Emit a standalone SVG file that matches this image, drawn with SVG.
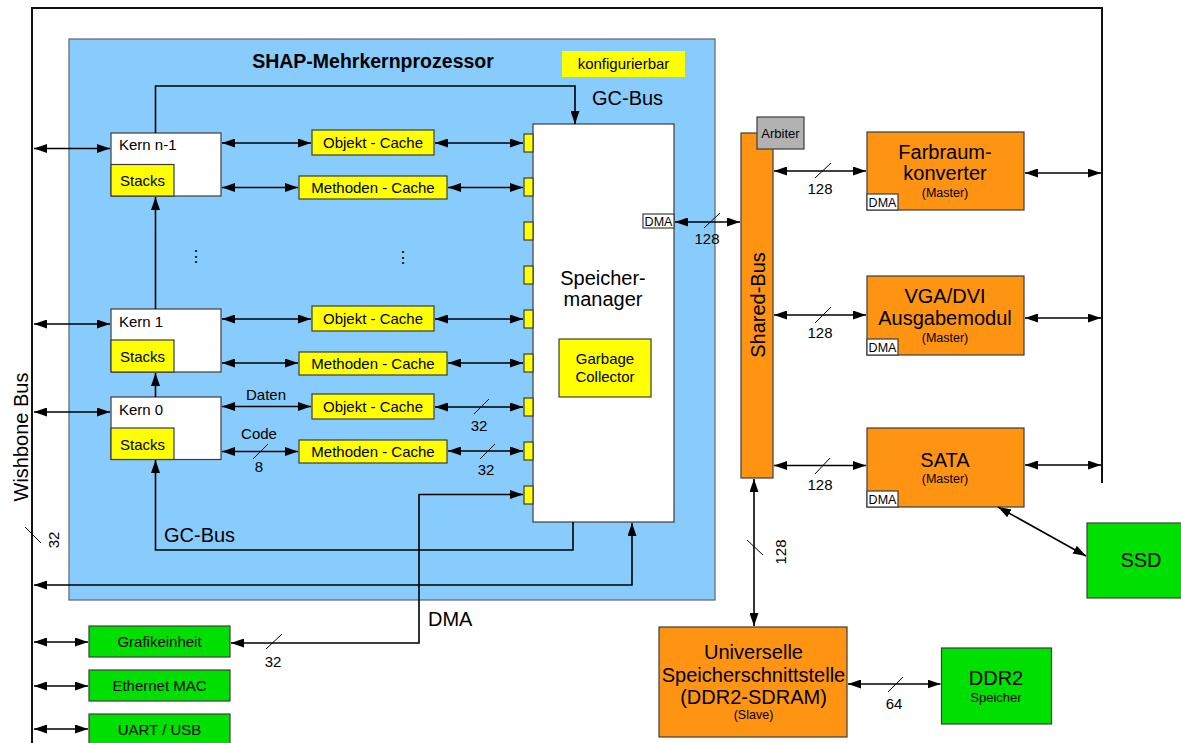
<svg xmlns="http://www.w3.org/2000/svg" width="1181" height="743" viewBox="0 0 1181 743">
  <style>
    .t { font-family: "Liberation Sans", Arial, sans-serif; fill: #000; }
    .c { text-anchor: middle; }
    .f15 { font-size: 15px; }
    .f20 { font-size: 20px; }
    .f13 { font-size: 13px; }
    .f12 { font-size: 12.5px; }
    .box { stroke: #3c3c3c; stroke-width: 1.2; }
    .white { fill: #ffffff; }
    .yellow { fill: #ffff00; }
    .orange { fill: #ff9412; }
    .green { fill: #00e000; }
    .grey { fill: #b2b2b2; }
    .wire { fill: none; stroke: #000; stroke-width: 1.6; }
    .bi { marker-start: url(#ah); marker-end: url(#ah); }
    .one { marker-end: url(#ah); }
    .tick { stroke: #000; stroke-width: 1; }
  </style>
  <defs>
    <marker id="ah" viewBox="0 0 13 9" refX="13" refY="4.5" markerWidth="13" markerHeight="9" markerUnits="userSpaceOnUse" orient="auto-start-reverse">
      <path d="M0,0 L13,4.5 L0,9 z" fill="#000"/>
    </marker>
  </defs>

  <rect width="1181" height="743" fill="#ffffff"/>

  <!-- Wishbone bus frame -->
  <g id="wishbone-bus">
    <path d="M32,743 V8 H1102 V483" fill="none" stroke="#111" stroke-width="2"/>
    <text class="t f20 c" transform="translate(28,437) rotate(-90)">Wishbone Bus</text>
    <line class="tick" x1="25" y1="527" x2="41" y2="543"/>
    <text class="t f15 c" transform="translate(59,540) rotate(-90)">32</text>
  </g>

  <!-- Multicore processor -->
  <g id="shap">
    <rect x="69" y="39" width="646" height="561" fill="#88ccfd" stroke="#5a6670" stroke-width="1.2"/>
    <text class="t c" x="373" y="68" font-size="19.5" font-weight="bold">SHAP-Mehrkernprozessor</text>
  </g>

  <g id="legend-konfigurierbar">
    <rect x="562" y="51" width="123" height="26" class="yellow"/>
    <text class="t f15 c" x="623.5" y="68.5">konfigurierbar</text>
  </g>

  <g id="kern-n-1">
    <rect x="111" y="133" width="110" height="63" class="white box"/>
    <text class="t f15" x="119" y="150">Kern n-1</text>
    <rect x="111" y="164.5" width="63" height="31.5" class="yellow box"/>
    <text class="t f15 c" x="142.5" y="185.5">Stacks</text>
  </g>
  <g id="kern-1">
    <rect x="111" y="309" width="110" height="63" class="white box"/>
    <text class="t f15" x="119" y="327">Kern 1</text>
    <rect x="111" y="340" width="63" height="32" class="yellow box"/>
    <text class="t f15 c" x="142.5" y="361.5">Stacks</text>
  </g>
  <g id="kern-0">
    <rect x="111" y="397" width="110" height="62.5" class="white box"/>
    <text class="t f15" x="119" y="415">Kern 0</text>
    <rect x="111" y="428" width="63" height="31.5" class="yellow box"/>
    <text class="t f15 c" x="142.5" y="449.5">Stacks</text>
  </g>

  <g id="objekt-cache-n-1">
    <rect x="312" y="130" width="122" height="25" class="yellow box"/>
    <text class="t f15 c" x="373" y="148">Objekt - Cache</text>
  </g>
  <g id="methoden-cache-n-1">
    <rect x="299" y="176" width="148" height="23" class="yellow box"/>
    <text class="t f15 c" x="373" y="193">Methoden - Cache</text>
  </g>
  <g id="objekt-cache-1">
    <rect x="312" y="306" width="122" height="25" class="yellow box"/>
    <text class="t f15 c" x="373" y="324">Objekt - Cache</text>
  </g>
  <g id="methoden-cache-1">
    <rect x="299" y="352" width="148" height="23" class="yellow box"/>
    <text class="t f15 c" x="373" y="369">Methoden - Cache</text>
  </g>
  <g id="objekt-cache-0">
    <rect x="312" y="394" width="122" height="25" class="yellow box"/>
    <text class="t f15 c" x="373" y="412">Objekt - Cache</text>
  </g>
  <g id="methoden-cache-0">
    <rect x="299" y="440" width="148" height="23" class="yellow box"/>
    <text class="t f15 c" x="373" y="457">Methoden - Cache</text>
  </g>

  <g id="ellipsis">
    <text class="t c" x="196" y="262" font-size="16" font-family="DejaVu Sans, sans-serif">⋮</text>
    <text class="t c" x="403" y="263" font-size="16" font-family="DejaVu Sans, sans-serif">⋮</text>
  </g>

  <g id="speichermanager">
    <rect x="533" y="124" width="141" height="398" class="white box"/>
    <text class="t f20 c" x="603" y="285">Speicher-</text>
    <text class="t f20 c" x="603" y="306">manager</text>
    <rect x="524" y="134" width="9" height="18" class="yellow box"/>
    <rect x="524" y="178" width="9" height="18" class="yellow box"/>
    <rect x="524" y="222" width="9" height="18" class="yellow box"/>
    <rect x="524" y="266" width="9" height="18" class="yellow box"/>
    <rect x="524" y="310" width="9" height="18" class="yellow box"/>
    <rect x="524" y="354" width="9" height="18" class="yellow box"/>
    <rect x="524" y="398" width="9" height="18" class="yellow box"/>
    <rect x="524" y="442" width="9" height="18" class="yellow box"/>
    <rect x="524" y="486" width="9" height="18" class="yellow box"/>
    <rect x="643" y="214" width="31" height="14" class="white box"/>
    <text class="t f12 c" x="658.5" y="226">DMA</text>
  </g>
  <g id="garbage-collector">
    <rect x="559" y="339" width="92" height="58" class="yellow box"/>
    <text class="t f15 c" x="605" y="363.5">Garbage</text>
    <text class="t f15 c" x="605" y="381.5">Collector</text>
  </g>

  <g id="shared-bus">
    <rect x="741" y="133" width="32" height="345" class="orange box"/>
    <text class="t f20 c" transform="translate(765,305) rotate(-90)">Shared-Bus</text>
  </g>
  <g id="arbiter">
    <rect x="757" y="117" width="47" height="32" class="grey box"/>
    <text class="t f13 c" x="780.5" y="137.5">Arbiter</text>
  </g>

  <g id="farbraumkonverter">
    <rect x="867" y="132" width="157" height="78" class="orange box"/>
    <text class="t f20 c" x="945" y="159">Farbraum-</text>
    <text class="t f20 c" x="945" y="180">konverter</text>
    <text class="t f12 c" x="945" y="197">(Master)</text>
    <rect x="867" y="194" width="31" height="16" class="white box"/>
    <text class="t f12 c" x="882.5" y="207">DMA</text>
  </g>
  <g id="vga-dvi">
    <rect x="867" y="276" width="157" height="79" class="orange box"/>
    <text class="t f20 c" x="945" y="303">VGA/DVI</text>
    <text class="t f20 c" x="945" y="325">Ausgabemodul</text>
    <text class="t f12 c" x="945" y="342">(Master)</text>
    <rect x="867" y="339" width="31" height="16" class="white box"/>
    <text class="t f12 c" x="882.5" y="352">DMA</text>
  </g>
  <g id="sata">
    <rect x="867" y="428" width="157" height="79" class="orange box"/>
    <text class="t f20 c" x="945" y="467">SATA</text>
    <text class="t f12 c" x="945" y="483">(Master)</text>
    <rect x="867" y="491" width="31" height="16" class="white box"/>
    <text class="t f12 c" x="882.5" y="504">DMA</text>
  </g>
  <g id="ssd">
    <rect x="1087" y="523" width="100" height="75" class="green box"/>
    <text class="t f20 c" x="1141" y="567">SSD</text>
  </g>
  <g id="speicherschnittstelle">
    <rect x="659" y="627" width="188" height="110" class="orange box"/>
    <text class="t f20 c" x="753.5" y="659">Universelle</text>
    <text class="t f20 c" x="753.5" y="682">Speicherschnittstelle</text>
    <text class="t f20 c" x="753.5" y="704">(DDR2-SDRAM)</text>
    <text class="t f12 c" x="753.5" y="719">(Slave)</text>
  </g>
  <g id="ddr2">
    <rect x="941.5" y="648" width="110" height="76" class="green box"/>
    <text class="t f20 c" x="996" y="685">DDR2</text>
    <text class="t f13 c" x="996" y="702">Speicher</text>
  </g>

  <g id="grafikeinheit">
    <rect x="89" y="626" width="141" height="31" class="green box"/>
    <text class="t f15 c" x="159.5" y="647">Grafikeinheit</text>
  </g>
  <g id="ethernet-mac">
    <rect x="89" y="670" width="141" height="31" class="green box"/>
    <text class="t f15 c" x="159.5" y="691">Ethernet MAC</text>
  </g>
  <g id="uart-usb">
    <rect x="89" y="714" width="141" height="40" class="green box"/>
    <text class="t f15 c" x="159.5" y="735">UART / USB</text>
  </g>

  <g id="connectors">
    <!-- Wishbone to cores -->
    <path class="wire bi" d="M34,148.5 H110"/>
    <path class="wire bi" d="M34,324 H110"/>
    <path class="wire bi" d="M34,412 H110"/>
    <!-- cores to caches -->
    <path class="wire bi" d="M222,143 H311"/>
    <path class="wire bi" d="M222,187.5 H298"/>
    <path class="wire bi" d="M222,319 H311"/>
    <path class="wire bi" d="M222,363 H298"/>
    <path class="wire bi" d="M222,406.5 H311"/>
    <path class="wire bi" d="M222,451.5 H298"/>
    <!-- caches to memory manager ports -->
    <path class="wire bi" d="M435,143 H523"/>
    <path class="wire bi" d="M448,187.5 H523"/>
    <path class="wire bi" d="M435,319 H523"/>
    <path class="wire bi" d="M448,363 H523"/>
    <path class="wire bi" d="M435,407 H523"/>
    <path class="wire bi" d="M448,451 H523"/>
    <!-- core chain -->
    <path class="wire one" d="M155.5,309 V197"/>
    <path class="wire one" d="M155.5,397 V373"/>
    <!-- GC bus -->
    <path class="wire one" d="M155.5,133 V86 H575 V124"/>
    <text class="t f20" x="592" y="105">GC-Bus</text>
    <path class="wire one" d="M573,522 V550 H155.5 V460"/>
    <text class="t f20" x="164" y="542">GC-Bus</text>
    <!-- memory manager to Wishbone -->
    <path class="wire bi" d="M34,585 H632 V523"/>
    <!-- DMA to Grafikeinheit -->
    <path class="wire bi" d="M231,643 H419 V494.5 H523"/>
    <text class="t f20" x="428" y="626">DMA</text>
    <line class="tick" x1="266" y1="649" x2="282" y2="634"/>
    <text class="t f15 c" x="273" y="667">32</text>
    <!-- labels on core 0 -->
    <text class="t f15 c" x="266" y="400">Daten</text>
    <text class="t f15 c" x="259" y="439">Code</text>
    <line class="tick" x1="253" y1="459" x2="268" y2="444"/>
    <text class="t f15 c" x="259" y="472">8</text>
    <line class="tick" x1="474" y1="414" x2="489" y2="399"/>
    <text class="t f15 c" x="479" y="431">32</text>
    <line class="tick" x1="480" y1="459" x2="495" y2="444"/>
    <text class="t f15 c" x="486" y="475">32</text>
    <!-- memory manager DMA to shared bus -->
    <path class="wire bi" d="M675,222 H740"/>
    <line class="tick" x1="704" y1="228" x2="720" y2="213"/>
    <text class="t f15 c" x="707" y="244">128</text>
    <!-- shared bus to masters -->
    <path class="wire bi" d="M774,171 H866"/>
    <line class="tick" x1="815" y1="178" x2="831" y2="163"/>
    <text class="t f15 c" x="820" y="194">128</text>
    <path class="wire bi" d="M774,315 H866"/>
    <line class="tick" x1="815" y1="323" x2="831" y2="307"/>
    <text class="t f15 c" x="820" y="338">128</text>
    <path class="wire bi" d="M774,465.5 H866"/>
    <line class="tick" x1="815" y1="474" x2="830" y2="458"/>
    <text class="t f15 c" x="820" y="490">128</text>
    <!-- masters to Wishbone -->
    <path class="wire bi" d="M1025,173 H1101"/>
    <path class="wire bi" d="M1025,318 H1101"/>
    <path class="wire bi" d="M1025,465 H1101"/>
    <!-- SATA to SSD -->
    <path class="wire bi" d="M998,507 L1086,556"/>
    <!-- shared bus to memory interface -->
    <path class="wire bi" d="M754,479 V626"/>
    <line class="tick" x1="747" y1="540" x2="763" y2="555"/>
    <text class="t f15 c" transform="translate(786,552) rotate(-90)">128</text>
    <!-- memory interface to DDR2 -->
    <path class="wire bi" d="M848,684 H940.5"/>
    <line class="tick" x1="888" y1="692" x2="903" y2="677"/>
    <text class="t f15 c" x="894" y="709">64</text>
    <!-- Wishbone to peripherals -->
    <path class="wire bi" d="M34,642 H88"/>
    <path class="wire bi" d="M34,686 H88"/>
    <path class="wire bi" d="M34,729 H88"/>
  </g>
</svg>
